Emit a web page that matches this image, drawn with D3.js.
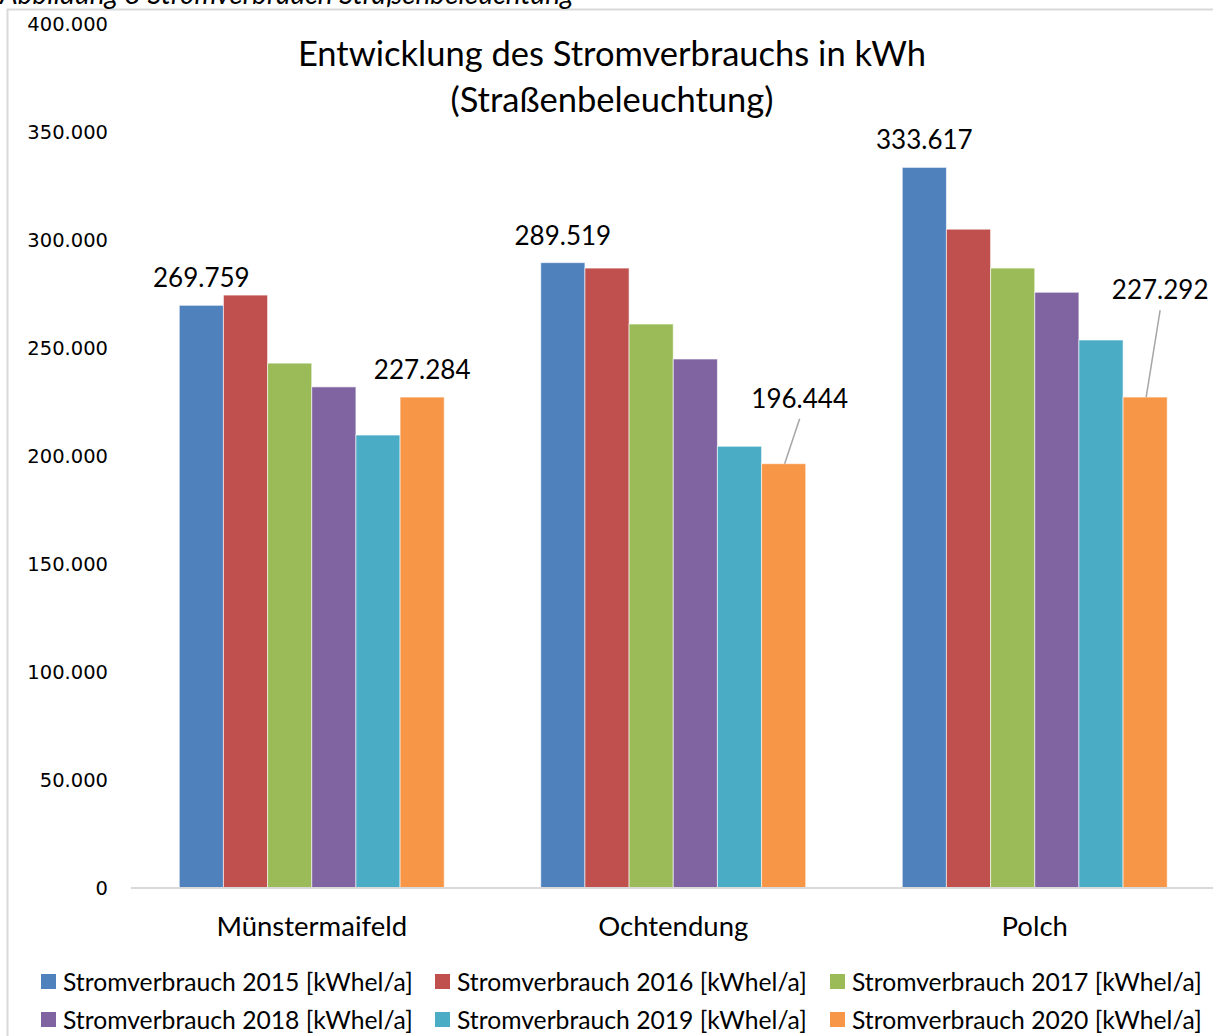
<!DOCTYPE html>
<html><head><meta charset="utf-8">
<script src="https://cdn.jsdelivr.net/npm/d3@7"></script>
<style>
html,body{margin:0;padding:0;background:#fff;}
svg{display:block;}
</style></head>
<body>
<svg id="chart" width="1213" height="1036"></svg>
<script>
const categories = ["Münstermaifeld", "Ochtendung", "Polch"];
const seriesNames = [
  "Stromverbrauch 2015 [kWhel/a]",
  "Stromverbrauch 2016 [kWhel/a]",
  "Stromverbrauch 2017 [kWhel/a]",
  "Stromverbrauch 2018 [kWhel/a]",
  "Stromverbrauch 2019 [kWhel/a]",
  "Stromverbrauch 2020 [kWhel/a]"
];
const values2015 = [269759, 289519, 333617];
const values2016 = [274500, 287000, 305000];
const values2017 = [243000, 261100, 287000];
const values2018 = [232000, 244900, 275800];
const values2019 = [209700, 204500, 253700];
const values2020 = [227284, 196444, 227292];
const yTicks = [0, 50000, 100000, 150000, 200000, 250000, 300000, 350000, 400000];
const colors = ["#4F81BD", "#C0504D", "#9BBB59", "#8064A2", "#4BACC6", "#F79646"];
// labelled points: [series index, category index]
const labelled = [[0,0],[5,0],[0,1],[5,1],[0,2],[5,2]];
// label placement offsets from bar top centre: [dx, dy, hasLeader]
const labelOffsets = [[0,-18,false],[0,-18,false],[0,-18,false],[16,-56,true],[0,-18,false],[15,-98,true]];

const seriesValues = [values2015, values2016, values2017, values2018, values2019, values2020];
const fmt = v => d3.format(",")(v).replace(/,/g, ".");

const svg = d3.select("#chart");
const F = "Lato, 'Open Sans', sans-serif";

// chart border
svg.append("rect").attr("x", 7.5).attr("y", 9.5).attr("width", 1220).attr("height", 1040)
  .attr("fill", "none").attr("stroke", "#d9d9d9").attr("stroke-width", 2);

// caption (cut off at top, as in the source)
svg.append("text").attr("x", 0).attr("y", 4)
  .attr("font-family", F).attr("font-style", "italic").attr("font-size", 28).attr("fill", "#000")
  .text("Abbildung 8 Stromverbrauch Straßenbeleuchtung");

const y = d3.scaleLinear().domain([0, 400000]).range([888, 24]);
const x0 = d3.scaleBand().domain(categories).range([131, 1215.5]).paddingInner(0.267).paddingOuter(0.1335);
const x1 = d3.scaleBand().domain(d3.range(seriesNames.length)).range([0, x0.bandwidth()]);

// y axis labels
const yAxis = d3.axisLeft(y).tickValues(yTicks).tickSize(0).tickPadding(0)
  .tickFormat(d => d === 0 ? "0" : fmt(d));
const yg = svg.append("g").attr("transform", "translate(108,0)").call(yAxis);
yg.select(".domain").remove();
yg.selectAll("text").attr("font-family", "'DejaVu Sans', sans-serif").attr("font-size", 19.5).attr("fill", "#000");

// bars
const groups = svg.append("g").selectAll("g").data(categories).join("g")
  .attr("transform", d => `translate(${x0(d)},0)`);
groups.selectAll("rect").data((c, ci) => seriesValues.map((s, si) => ({si, v: s[ci]})))
  .join("rect")
  .attr("x", d => x1(d.si))
  .attr("width", x1.bandwidth())
  .attr("y", d => y(d.v))
  .attr("height", d => y(0) - y(d.v))
  .attr("fill", d => colors[d.si])
  .attr("stroke", "rgba(255,255,255,0.6)").attr("stroke-width", 1);

// x axis line
svg.append("line").attr("x1", 131).attr("x2", 1213).attr("y1", y(0)).attr("y2", y(0))
  .attr("stroke", "#d9d9d9").attr("stroke-width", 2);

// category labels
const xAxis = d3.axisBottom(x0).tickSize(0).tickPadding(0);
const xg = svg.append("g").attr("transform", `translate(0,${y(0)})`).call(xAxis);
xg.select(".domain").remove();
xg.selectAll("text").attr("font-family", F).attr("font-size", 27.5).attr("fill", "#000")
  .attr("dy", 0).attr("y", 48);

// data labels
labelled.forEach(([si, ci], k) => {
  const [dx, dy, leader] = labelOffsets[k];
  const v = seriesValues[si][ci];
  const bx = x0(categories[ci]) + x1(si) + x1.bandwidth() / 2;
  const by = y(v);
  if (leader) {
    svg.append("line").attr("x1", bx + 1).attr("y1", by).attr("x2", bx + dx).attr("y2", by + dy + 11)
      .attr("stroke", "#a6a6a6").attr("stroke-width", 1.5);
  }
  svg.append("text").attr("x", bx + dx).attr("y", by + dy).attr("text-anchor", "middle")
    .attr("font-family", F).attr("font-size", 26).attr("fill", "#000").text(fmt(v));
});

// title
const title = svg.append("text").attr("text-anchor", "middle").attr("font-family", F)
  .attr("font-size", 34.5).attr("fill", "#000");
title.append("tspan").attr("x", 612).attr("y", 66).text("Entwicklung des Stromverbrauchs in kWh");
title.append("tspan").attr("x", 612).attr("y", 112).text("(Straßenbeleuchtung)");

// legend
const legX = [41, 435, 830];
const legY = [982, 1020];
const leg = svg.append("g").selectAll("g").data(seriesNames).join("g")
  .attr("transform", (d, i) => `translate(${legX[i % 3]},${legY[Math.floor(i / 3)]})`);
leg.append("rect").attr("x", 0).attr("y", -8).attr("width", 15).attr("height", 15)
  .attr("fill", (d, i) => colors[i]);
leg.append("text").attr("x", 22).attr("y", 0).attr("dy", "0.35em")
  .attr("font-family", F).attr("font-size", 24.7).attr("fill", "#000").text(d => d);
</script>
</body></html>
